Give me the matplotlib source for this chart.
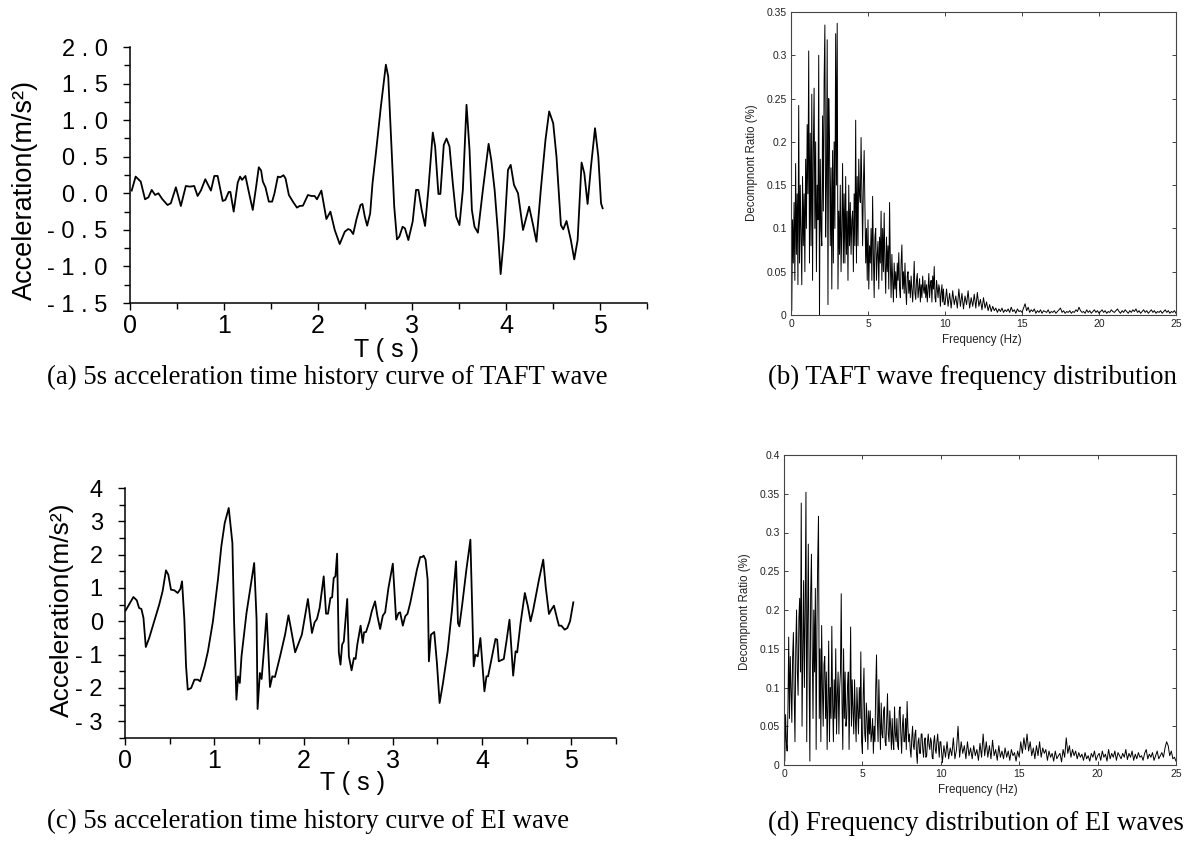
import numpy as np
import matplotlib
matplotlib.use("Agg")
import matplotlib.pyplot as plt
from matplotlib.ticker import MultipleLocator

plt.rcParams['font.family'] = ['Liberation Sans', 'DejaVu Sans']

# ---------------- data ----------------
taft_t = [0.018, 0.060, 0.089, 0.114, 0.160, 0.196, 0.231, 0.267, 0.302, 0.345,
          0.399, 0.434, 0.488, 0.541, 0.594, 0.637, 0.683, 0.719, 0.754, 0.801,
          0.861, 0.897, 0.932, 0.986, 1.014, 1.050, 1.068, 1.103, 1.146, 1.171,
          1.192, 1.228, 1.263, 1.306, 1.342, 1.370, 1.395, 1.413, 1.441, 1.477,
          1.512, 1.537, 1.573, 1.598, 1.633, 1.655, 1.690, 1.733, 1.776, 1.804,
          1.840, 1.893, 1.929, 1.964, 1.989, 2.036, 2.089, 2.132, 2.178, 2.231,
          2.285, 2.320, 2.345, 2.374, 2.409, 2.452, 2.473, 2.498, 2.523, 2.555,
          2.580, 2.616, 2.669, 2.722, 2.747, 2.783, 2.811, 2.840, 2.865, 2.900,
          2.925, 2.961, 3.007, 3.043, 3.068, 3.103, 3.139, 3.174, 3.221, 3.246,
          3.281, 3.302, 3.338, 3.367, 3.399, 3.434, 3.470, 3.505, 3.541, 3.580,
          3.612, 3.637, 3.665, 3.701, 3.754, 3.815, 3.843, 3.879, 3.915, 3.943,
          3.979, 4.021, 4.050, 4.085, 4.128, 4.181, 4.246, 4.288, 4.324, 4.370,
          4.420, 4.459, 4.502, 4.537, 4.584, 4.609, 4.644, 4.690, 4.726, 4.762,
          4.804, 4.833, 4.868, 4.904, 4.947, 4.982, 5.011, 5.028]
taft_a = [0.037, 0.228, 0.192, 0.160, -0.082, -0.055, 0.046, -0.023, 0.000, -0.082,
          -0.160, -0.137, 0.082, -0.174, 0.100, 0.091, 0.100, -0.037, 0.037, 0.192,
          0.037, 0.237, 0.237, -0.105, -0.091, 0.018, 0.018, -0.251, 0.146, 0.228,
          0.183, 0.237, 0.023, -0.228, 0.091, 0.356, 0.311, 0.160, 0.082, -0.114,
          -0.114, 0.000, 0.228, 0.219, 0.247, 0.201, -0.023, -0.114, -0.196, -0.174,
          -0.169, -0.023, -0.037, -0.037, -0.082, 0.037, -0.352, -0.251, -0.502, -0.694,
          -0.525, -0.489, -0.502, -0.557, -0.356, -0.160, -0.146, -0.320, -0.443, -0.274,
          0.137, 0.548, 1.187, 1.758, 1.598, 0.594, -0.183, -0.630, -0.594, -0.457,
          -0.479, -0.639, -0.388, 0.046, 0.046, -0.228, -0.447, 0.046, 0.831, 0.639,
          -0.009, -0.009, 0.662, 0.749, 0.639, 0.137, -0.320, -0.434, 0.046, 1.210,
          0.594, -0.228, -0.457, -0.539, 0.046, 0.676, 0.457, 0.046, -0.548, -1.105,
          -0.594, 0.320, 0.388, 0.114, 0.000, -0.502, -0.183, -0.434, -0.662, 0.046,
          0.731, 1.119, 0.959, 0.502, -0.434, -0.493, -0.379, -0.639, -0.904, -0.639,
          0.420, 0.274, -0.146, 0.365, 0.890, 0.502, -0.137, -0.205]

ei_t = [0.008, 0.045, 0.094, 0.132, 0.158, 0.184, 0.207, 0.233, 0.271, 0.327,
        0.383, 0.421, 0.459, 0.485, 0.515, 0.553, 0.590, 0.620, 0.639, 0.665,
        0.684, 0.703, 0.741, 0.778, 0.816, 0.842, 0.891, 0.929, 0.985, 1.041,
        1.079, 1.117, 1.162, 1.203, 1.222, 1.248, 1.267, 1.286, 1.305, 1.361,
        1.410, 1.447, 1.474, 1.485, 1.511, 1.530, 1.560, 1.586, 1.624, 1.650,
        1.680, 1.737, 1.793, 1.831, 1.861, 1.906, 1.981, 2.049, 2.094, 2.124,
        2.150, 2.180, 2.226, 2.252, 2.274, 2.301, 2.320, 2.338, 2.357, 2.376,
        2.395, 2.414, 2.432, 2.451, 2.489, 2.508, 2.538, 2.564, 2.583, 2.602,
        2.639, 2.663, 2.678, 2.700, 2.738, 2.764, 2.801, 2.828, 2.858, 2.888,
        2.914, 2.951, 3.000, 3.037, 3.064, 3.082, 3.112, 3.139, 3.165, 3.195,
        3.232, 3.270, 3.307, 3.330, 3.345, 3.367, 3.390, 3.404, 3.427, 3.464,
        3.494, 3.524, 3.562, 3.614, 3.663, 3.708, 3.730, 3.745, 3.775, 3.824,
        3.869, 3.906, 3.925, 3.951, 3.981, 4.026, 4.049, 4.067, 4.112, 4.150,
        4.169, 4.187, 4.243, 4.273, 4.307, 4.348, 4.375, 4.393, 4.431, 4.479,
        4.513, 4.543, 4.573, 4.637, 4.685, 4.712, 4.749, 4.775, 4.805, 4.843,
        4.861, 4.888, 4.925, 4.955, 4.985, 5.022]
ei_a = [0.33, 0.50, 0.73, 0.63, 0.40, 0.37, 0.10, -0.77, -0.50, 0.00,
        0.50, 0.90, 1.53, 1.40, 0.95, 0.93, 0.85, 0.97, 1.20, 0.05,
        -1.35, -2.05, -2.00, -1.75, -1.75, -1.80, -1.35, -0.90, 0.00, 1.25,
        2.25, 2.95, 3.40, 2.35, 0.00, -2.35, -1.65, -1.85, -1.05, 0.25,
        1.10, 1.75, 0.05, -2.63, -1.55, -1.73, -0.75, 0.23, -1.97, -1.65,
        -1.67, -1.05, -0.40, 0.18, -0.25, -0.93, -0.40, 0.67, -0.35, -0.03,
        0.07, 0.40, 1.35, 0.23, 0.23, 0.70, 0.72, 1.30, 1.35, 2.03,
        -0.93, -1.30, -0.70, -0.60, 0.67, -1.05, -1.47, -1.10, -1.13, -0.70,
        -0.13, -0.65, -0.33, -0.32, 0.00, 0.30, 0.60, 0.15, -0.23, 0.17,
        0.27, 1.00, 1.73, 0.05, 0.25, 0.27, -0.13, 0.15, 0.23, 0.55,
        1.05, 1.55, 1.93, 1.93, 1.97, 1.85, 1.25, -1.20, -0.40, -0.32,
        -1.25, -2.45, -1.85, -0.90, 0.35, 1.80, -0.05, -0.15, 0.45, 1.55,
        2.45, -1.35, -1.00, -1.05, -0.50, -2.10, -1.65, -1.65, -1.05, -0.53,
        -0.55, -1.20, -1.13, -0.60, 0.05, -1.63, -0.90, -0.93, -0.05, 0.85,
        0.45, 0.00, 0.35, 1.25, 1.85, 1.05, 0.22, 0.35, 0.47, 0.05,
        -0.13, -0.13, -0.25, -0.20, 0.00, 0.57]

# spectra: 0-10 Hz read every 0.05 Hz, 10.1-25 Hz read every 0.1 Hz
freq_low = np.round(np.arange(0, 201) * 0.05, 2)
freq_high = np.round(10.0 + np.arange(1, 151) * 0.1, 1)

taft_spec_low = [
    0.130, 0.005, 0.110, 0.060, 0.130, 0.040, 0.175, 0.070, 0.140, 0.035,
    0.242, 0.060, 0.150, 0.090, 0.035, 0.160, 0.080, 0.140, 0.050, 0.180,
    0.100, 0.220, 0.140, 0.305, 0.060, 0.210, 0.080, 0.255, 0.040, 0.190,
    0.262, 0.100, 0.200, 0.050, 0.150, 0.110, 0.300, 0.000, 0.180, 0.100,
    0.080, 0.230, 0.120, 0.270, 0.335, 0.090, 0.150, 0.318, 0.012, 0.250,
    0.200, 0.080, 0.170, 0.030, 0.190, 0.060, 0.200, 0.100, 0.325, 0.150,
    0.337, 0.030, 0.120, 0.070, 0.150, 0.050, 0.100, 0.175, 0.060, 0.140,
    0.060, 0.160, 0.070, 0.120, 0.040, 0.150, 0.080, 0.130, 0.070, 0.110,
    0.120, 0.050, 0.140, 0.080, 0.225, 0.060, 0.160, 0.080, 0.180, 0.140,
    0.130, 0.205, 0.140, 0.080, 0.150, 0.190, 0.120, 0.060, 0.100, 0.040,
    0.110, 0.030, 0.080, 0.060, 0.100, 0.040, 0.137, 0.070, 0.020, 0.090,
    0.100, 0.040, 0.070, 0.085, 0.030, 0.090, 0.060, 0.120, 0.040, 0.100,
    0.050, 0.118, 0.060, 0.025, 0.090, 0.050, 0.080, 0.030, 0.130, 0.060,
    0.020, 0.070, 0.040, 0.015, 0.060, 0.030, 0.050, 0.020, 0.060, 0.040,
    0.072, 0.030, 0.020, 0.060, 0.081, 0.030, 0.050, 0.025, 0.060, 0.030,
    0.012, 0.045, 0.050, 0.025, 0.040, 0.020, 0.045, 0.030, 0.015, 0.035,
    0.062, 0.025, 0.018, 0.040, 0.048, 0.020, 0.030, 0.042, 0.015, 0.035,
    0.020, 0.045, 0.030, 0.025, 0.040, 0.020, 0.035, 0.015, 0.030, 0.048,
    0.020, 0.035, 0.040, 0.015, 0.045, 0.030, 0.056, 0.020, 0.015, 0.040,
    0.030, 0.020, 0.035, 0.030, 0.010, 0.025, 0.035, 0.015, 0.030, 0.012,
    0.012]
taft_spec_high = [
    0.030, 0.010, 0.025, 0.008, 0.028, 0.012, 0.022, 0.008, 0.030,
    0.010, 0.025, 0.007, 0.022, 0.012, 0.028, 0.008, 0.020, 0.010, 0.024,
    0.008, 0.026, 0.010, 0.018, 0.006, 0.020, 0.008, 0.015, 0.005, 0.012,
    0.004, 0.010, 0.005, 0.008, 0.003, 0.007, 0.004, 0.008, 0.003, 0.006,
    0.004, 0.007, 0.003, 0.009, 0.004, 0.006, 0.002, 0.007, 0.004, 0.005,
    0.003, 0.008, 0.013, 0.005, 0.009, 0.003, 0.006, 0.004, 0.007, 0.002,
    0.005, 0.003, 0.006, 0.002, 0.005, 0.004, 0.003, 0.006, 0.002, 0.004,
    0.003, 0.005, 0.002, 0.004, 0.006, 0.008, 0.003, 0.005, 0.002, 0.004,
    0.003, 0.005, 0.002, 0.004, 0.003, 0.006, 0.004, 0.009, 0.005, 0.003,
    0.004, 0.002, 0.006, 0.003, 0.005, 0.002, 0.004, 0.006, 0.003, 0.005,
    0.002, 0.004, 0.006, 0.003, 0.005, 0.002, 0.004, 0.003, 0.006, 0.004,
    0.003, 0.005, 0.007, 0.004, 0.002, 0.005, 0.003, 0.006, 0.004, 0.002,
    0.005, 0.003, 0.006, 0.004, 0.007, 0.003, 0.005, 0.002, 0.004, 0.006,
    0.003, 0.005, 0.002, 0.004, 0.006, 0.003, 0.005, 0.002, 0.004, 0.003,
    0.005, 0.002, 0.004, 0.006, 0.003, 0.005, 0.002, 0.004, 0.003, 0.005,
    0.002]

ei_spec_low = [
    0.030, 0.005, 0.065, 0.030, 0.018, 0.070, 0.165, 0.060, 0.140, 0.100,
    0.055, 0.140, 0.171, 0.090, 0.030, 0.150, 0.200, 0.120, 0.090, 0.190,
    0.215, 0.120, 0.338, 0.050, 0.150, 0.238, 0.100, 0.200, 0.352, 0.030,
    0.180, 0.285, 0.120, 0.005, 0.220, 0.272, 0.150, 0.060, 0.200, 0.120,
    0.228, 0.020, 0.180, 0.265, 0.321, 0.060, 0.150, 0.030, 0.180, 0.100,
    0.050, 0.130, 0.140, 0.060, 0.120, 0.020, 0.080, 0.160, 0.030, 0.100,
    0.060, 0.179, 0.080, 0.030, 0.110, 0.060, 0.150, 0.040, 0.090, 0.120,
    0.040, 0.100, 0.120, 0.221, 0.080, 0.020, 0.150, 0.060, 0.120, 0.050,
    0.060, 0.100, 0.120, 0.020, 0.090, 0.178, 0.050, 0.110, 0.070, 0.040,
    0.110, 0.060, 0.030, 0.100, 0.070, 0.040, 0.100, 0.060, 0.146, 0.030,
    0.015, 0.090, 0.125, 0.040, 0.030, 0.080, 0.060, 0.020, 0.070, 0.040,
    0.070, 0.030, 0.040, 0.060, 0.015, 0.050, 0.030, 0.100, 0.142, 0.060,
    0.030, 0.110, 0.060, 0.020, 0.080, 0.040, 0.035, 0.070, 0.075, 0.030,
    0.025, 0.060, 0.092, 0.040, 0.030, 0.070, 0.050, 0.020, 0.060, 0.030,
    0.020, 0.075, 0.040, 0.030, 0.060, 0.025, 0.020, 0.070, 0.075, 0.040,
    0.015, 0.050, 0.065, 0.030, 0.030, 0.060, 0.020, 0.082, 0.050, 0.030,
    0.040, 0.020, 0.010, 0.035, 0.050, 0.025, 0.020, 0.040, 0.045, 0.015,
    0.002, 0.030, 0.035, 0.015, 0.015, 0.040, 0.040, 0.020, 0.010, 0.030,
    0.035, 0.010, 0.012, 0.030, 0.040, 0.025, 0.020, 0.035, 0.030, 0.010,
    0.008, 0.030, 0.038, 0.020, 0.015, 0.030, 0.040, 0.025, 0.010, 0.030,
    0.030]
ei_spec_high = [
    0.003, 0.025, 0.010, 0.030, 0.008, 0.022, 0.012, 0.035, 0.008,
    0.020, 0.050, 0.010, 0.030, 0.015, 0.025, 0.008, 0.030, 0.012, 0.022,
    0.008, 0.025, 0.012, 0.020, 0.006, 0.028, 0.010, 0.040, 0.012, 0.030,
    0.010, 0.025, 0.008, 0.032, 0.012, 0.020, 0.006, 0.025, 0.010, 0.018,
    0.008, 0.022, 0.010, 0.018, 0.006, 0.020, 0.012, 0.016, 0.005, 0.018,
    0.010, 0.030, 0.015, 0.035, 0.020, 0.040, 0.018, 0.030, 0.012, 0.022,
    0.008, 0.025, 0.012, 0.030, 0.010, 0.022, 0.015, 0.020, 0.006, 0.018,
    0.010, 0.015, 0.005, 0.018, 0.008, 0.012, 0.015, 0.004, 0.020, 0.010,
    0.035, 0.015, 0.025, 0.010, 0.020, 0.012, 0.018, 0.008, 0.016, 0.010,
    0.014, 0.006, 0.016, 0.008, 0.012, 0.005, 0.015, 0.010, 0.018, 0.006,
    0.012, 0.015, 0.006, 0.018, 0.010, 0.014, 0.005, 0.020, 0.008, 0.015,
    0.010, 0.018, 0.006, 0.016, 0.012, 0.008, 0.015, 0.010, 0.020, 0.007,
    0.015, 0.010, 0.018, 0.006, 0.014, 0.008, 0.016, 0.010, 0.012, 0.006,
    0.015, 0.020, 0.008, 0.014, 0.010, 0.016, 0.006, 0.012, 0.018, 0.008,
    0.012, 0.016, 0.010, 0.022, 0.030, 0.025, 0.012, 0.018, 0.008, 0.010,
    0.005]

taft_yticks = [-1.5, -1.0, -0.5, 0.0, 0.5, 1.0, 1.5, 2.0]
taft_ylabels = ['- 1 . 5', '- 1 . 0', '- 0 . 5', '0 . 0', '0 . 5', '1 . 0', '1 . 5', '2 . 0']
ei_yticks = [-3, -2, -1, 0, 1, 2, 3, 4]
ei_ylabels = ['- 3', '- 2', '- 1', '0', '1', '2', '3', '4']
time_xticks = [0, 1, 2, 3, 4, 5]

captions = ['(a) 5s acceleration time history curve of TAFT wave',
            '(b) TAFT wave frequency distribution',
            '(c) 5s acceleration time history curve of EI wave',
            '(d) Frequency distribution of EI waves']

# ---------------- figure ----------------
W, H = 1188, 842
fig = plt.figure(figsize=(W / 100, H / 100), dpi=100)


def px_axes(l, t, r, b):
    return fig.add_axes([l / W, 1 - b / H, (r - l) / W, (b - t) / H])


def style_time(ax, yt, yl, ylo, yhi, ytick_fs, xtick_fs):
    ax.set_xlim(0, 5.5)
    ax.set_ylim(ylo, yhi)
    for s in ('top', 'right'):
        ax.spines[s].set_visible(False)
    for s in ('left', 'bottom'):
        ax.spines[s].set_linewidth(1.1)
    ax.set_xticks(time_xticks)
    ax.set_xticklabels([str(v) for v in time_xticks])
    ax.xaxis.set_minor_locator(MultipleLocator(0.5))
    ax.set_yticks(yt)
    ax.set_yticklabels(yl)
    ax.yaxis.set_minor_locator(MultipleLocator(0.25 if yhi < 3 else 0.5))
    ax.tick_params(which='major', direction='out', length=5, width=1.0)
    ax.tick_params(which='minor', direction='out', length=4, width=1.0)
    ax.tick_params(axis='y', labelsize=ytick_fs, pad=11)
    ax.tick_params(axis='x', labelsize=xtick_fs, pad=3)


def style_spec(ax, ymax):
    vals = np.round(np.arange(0, ymax + 0.001, 0.05), 2)
    ax.set_xlim(0, 25)
    ax.set_ylim(0, ymax)
    ax.set_xticks([0, 5, 10, 15, 20, 25])
    ax.set_yticks(vals)
    ax.set_yticklabels([('%g' % v) for v in vals])
    ax.tick_params(direction='in', length=3, width=0.6, labelsize=7.5,
                   top=True, right=True, colors='#222222', pad=3)
    for s in ax.spines.values():
        s.set_linewidth(0.8)
        s.set_color('#444444')


# (a)
ax_a = px_axes(130, 47, 647, 303)
ax_a.plot(taft_t, taft_a, color='black', lw=1.3)
style_time(ax_a, taft_yticks, taft_ylabels, -1.5, 2.0, 17, 18)
fig.text(25 / W, 1 - 190 / H, 'Acceleration(m/s²)', rotation=90, fontsize=19.5,
         ha='center', va='center')
fig.text(387 / W, 1 - 350 / H, 'T ( s )', fontsize=18, ha='center', va='center')

# (b)
ax_b = px_axes(791, 12, 1176, 315)
ax_b.plot(np.concatenate([freq_low, freq_high]), taft_spec_low + taft_spec_high,
          color='black', lw=0.7)
style_spec(ax_b, 0.35)
fig.text(752 / W, 1 - 163 / H, 'Decompnont Ratio (%)', rotation=90, fontsize=8.3,
         ha='center', va='center', color='#222222')
fig.text(982 / W, 1 - 340 / H, 'Frequency (Hz)', fontsize=8.3, ha='center', va='center',
         color='#222222')

# (c)
ax_c = px_axes(125, 488, 616, 738)
ax_c.plot(ei_t, ei_a, color='black', lw=1.3)
style_time(ax_c, ei_yticks, ei_ylabels, -3.5, 4.0, 17, 18)
fig.text(62 / W, 1 - 610 / H, 'Acceleration(m/s²)', rotation=90, fontsize=19,
         ha='center', va='center')
fig.text(352 / W, 1 - 783 / H, 'T ( s )', fontsize=18, ha='center', va='center')

# (d)
ax_d = px_axes(784, 455, 1176, 765)
ax_d.plot(np.concatenate([freq_low, freq_high]), ei_spec_low + ei_spec_high,
          color='black', lw=0.7)
style_spec(ax_d, 0.4)
fig.text(745 / W, 1 - 612 / H, 'Decompnont Ratio (%)', rotation=90, fontsize=8.3,
         ha='center', va='center', color='#222222')
fig.text(978 / W, 1 - 790 / H, 'Frequency (Hz)', fontsize=8.3, ha='center', va='center',
         color='#222222')

# captions
cap_pos = [(47, 377), (768, 377), (47, 821), (768, 823)]
for (cx, cy), txt in zip(cap_pos, captions):
    fig.text(cx / W, 1 - cy / H, txt, fontsize=19.3, ha='left', va='center',
             family=['Liberation Serif', 'DejaVu Serif'])

fig.savefig('out.png', dpi=100)
